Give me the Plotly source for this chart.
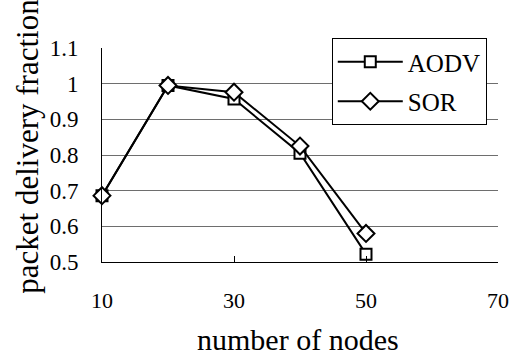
import plotly.graph_objects as go

nodes = [10, 20, 30, 40, 50]
aodv = [0.686, 0.995, 0.957, 0.805, 0.522]
sor = [0.686, 0.995, 0.976, 0.825, 0.580]
x_ticks = [10, 30, 50, 70]
y_ticks = [0.5, 0.6, 0.7, 0.8, 0.9, 1.0, 1.1]
y_tick_text = ["0.5", "0.6", "0.7", "0.8", "0.9", "1", "1.1"]

FONT = "Liberation Serif, Times New Roman, serif"

fig = go.Figure()
fig.add_trace(go.Scatter(
    x=nodes, y=aodv, name="AODV", mode="lines+markers", legendgroup="a",
    line=dict(color="black", width=2),
    marker=dict(symbol="square", size=11, color="white", line=dict(color="black", width=2)),
    cliponaxis=False,
))
fig.add_trace(go.Scatter(
    x=nodes, y=sor, name="SOR", mode="lines+markers", legendgroup="b",
    line=dict(color="black", width=2),
    marker=dict(symbol="diamond", size=13, color="white", line=dict(color="black", width=2)),
    cliponaxis=False,
))

W, H = 521, 357
L, R, T, B = 102, 507, 48, 262
pw, ph = R - L, B - T

def px(x):
    return (x - L) / pw

def py(y):
    return (B - y) / ph

fig.update_layout(
    width=W, height=H,
    margin=dict(l=L, r=W - R, t=T, b=H - B, pad=0),
    paper_bgcolor="white", plot_bgcolor="white",
    font=dict(family=FONT, color="black", size=20),
    showlegend=True,
    legend=dict(
        x=px(337), y=py(38), xanchor="left", yanchor="top",
        bordercolor="black", borderwidth=1, bgcolor="white",
        font=dict(family=FONT, size=25, color="black"),
        tracegroupgap=4, itemwidth=65,
    ),
    xaxis=dict(
        range=[10, 70], tickvals=x_ticks, ticktext=[str(v) for v in x_ticks],
        showgrid=False, zeroline=False,
        showline=True, linecolor="black", linewidth=1,
        ticks="inside", ticklen=6, tickcolor="black", tickwidth=1,
        tickfont=dict(family=FONT, size=22),
        ticklabelstandoff=19,
    ),
    yaxis=dict(
        range=[0.5, 1.1], tickvals=y_ticks, ticktext=y_tick_text,
        showgrid=True, gridcolor="#6e6e6e", gridwidth=1, zeroline=False,
        showline=True, linecolor="black", linewidth=1,
        ticks="", tickfont=dict(family=FONT, size=23),
        ticklabelstandoff=18,
    ),
    annotations=[
        dict(text="packet delivery fraction", xref="paper", yref="paper",
             x=px(25), y=py(146), xanchor="center", yanchor="middle",
             textangle=-90, showarrow=False, font=dict(family=FONT, size=31)),
        dict(text="number of nodes", xref="paper", yref="paper",
             x=px(302), y=py(339), xanchor="center", yanchor="middle",
             showarrow=False, font=dict(family=FONT, size=30)),
    ],
)

fig.write_html("out.html")
